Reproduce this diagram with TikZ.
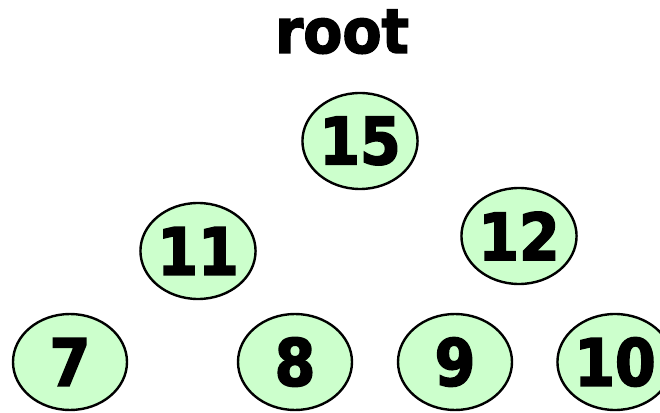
\documentclass[tikz,border=0pt]{standalone}
\usepackage{fontspec}
\setmainfont{DejaVu Sans}
\newfontfamily\heavyfont[FakeStretch=0.9, FakeBold=2.6]{DejaVu Sans Bold}
\newfontfamily\titlefont[FakeStretch=0.92, FakeBold=2.2]{DejaVu Sans Bold}
\usetikzlibrary{shapes.geometric}
\definecolor{nodegreen}{HTML}{CCFFCC}
\begin{document}
\begin{tikzpicture}[x=1pt,y=1pt,
  heapnode/.style={ellipse, draw=black, line width=2.4pt, fill=nodegreen,
    minimum width=114pt, minimum height=96pt, inner sep=0pt,
    font=\fontsize{65}{65}\heavyfont},
  title/.style={font=\fontsize{62}{62}\titlefont, inner sep=0pt}]
\useasboundingbox (0,0) rectangle (660,412);
\node[title, anchor=base] (root) at (342,359) {root};
\node[heapnode] (n15) at (360,271) {15};
\node[heapnode] (n11) at (198,161) {11};
\node[heapnode] (n12) at (519,176) {12};
\node[heapnode] (n7) at (70,50) {7};
\node[heapnode] (n8) at (295,50) {8};
\node[heapnode] (n9) at (455,50) {9};
\node[heapnode] (n10) at (615,50) {10};
\end{tikzpicture}
\end{document}
